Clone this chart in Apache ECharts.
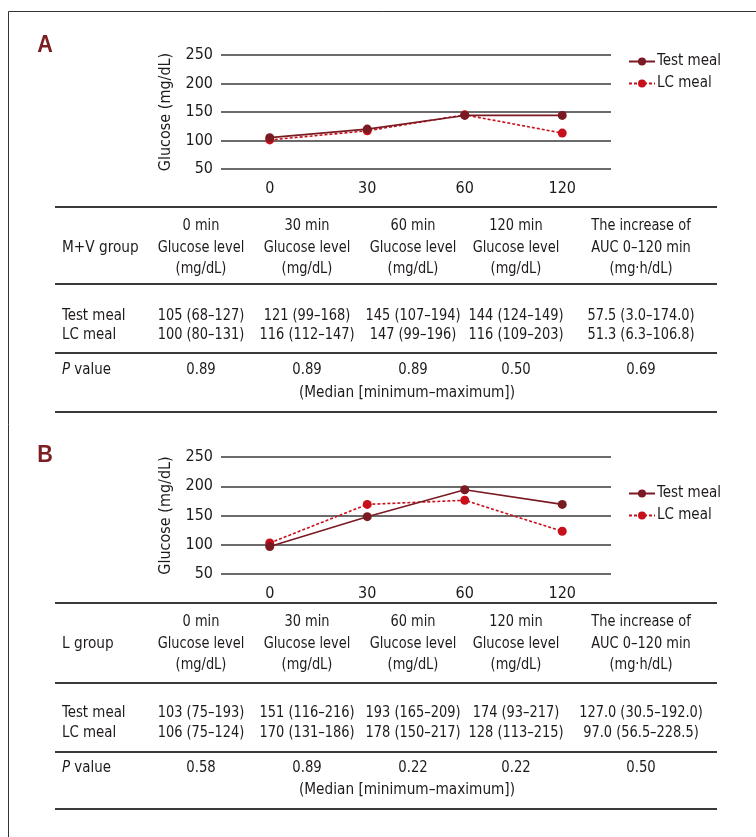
<!DOCTYPE html>
<html>
<head>
<meta charset="utf-8">
<script src="https://cdn.jsdelivr.net/npm/echarts@6/dist/echarts.min.js"></script>
<style>
html,body{margin:0;padding:0;background:#fff;}
#chart{width:756px;height:837px;}
</style>
</head>
<body>
<div id="chart"></div>
<script>
// ---------- data ----------
const timeCats = ['0', '30', '60', '120'];
const seriesNames = ['Test meal', 'LC meal'];
const testMealA = [105, 120, 144, 144];
const lcMealA = [101, 117, 145, 113];
const testMealB = [97, 148, 194, 169];
const lcMealB = [103, 169, 176, 123];
const yMin = 50, yMax = 250, yStep = 50;

const headerCols = [
  ['0 min', 'Glucose level', '(mg/dL)'],
  ['30 min', 'Glucose level', '(mg/dL)'],
  ['60 min', 'Glucose level', '(mg/dL)'],
  ['120 min', 'Glucose level', '(mg/dL)'],
  ['The increase of', 'AUC 0–120 min', '(mg·h/dL)']
];
const groupA = 'M+V group';
const testRowA = ['105 (68–127)', '121 (99–168)', '145 (107–194)', '144 (124–149)', '57.5 (3.0–174.0)'];
const lcRowA = ['100 (80–131)', '116 (112–147)', '147 (99–196)', '116 (109–203)', '51.3 (6.3–106.8)'];
const pRowA = ['0.89', '0.89', '0.89', '0.50', '0.69'];
const groupB = 'L group';
const testRowB = ['103 (75–193)', '151 (116–216)', '193 (165–209)', '174 (93–217)', '127.0 (30.5–192.0)'];
const lcRowB = ['106 (75–124)', '170 (131–186)', '178 (150–217)', '128 (113–215)', '97.0 (56.5–228.5)'];
const pRowB = ['0.58', '0.89', '0.22', '0.22', '0.50'];
const footNote = '(Median [minimum–maximum])';
const rowLabels = ['Test meal', 'LC meal', '{i|P} value'];

// ---------- style ----------
const FONT = '"Liberation Sans Narrow", "DejaVu Sans Condensed", "Roboto Condensed", "Liberation Sans", sans-serif';
const TXT = '#1e1a1b';
const C_TEST = '#7a1a22';
const C_LC = '#c8101c';
const FS = 16;
const TFS = 16;       // table font size

const chart = echarts.init(document.getElementById('chart'));

function makeSeries(name, data, idx, color, dashed) {
  return {
    name: name, type: 'line', data: data,
    xAxisIndex: idx, yAxisIndex: idx,
    symbol: 'circle', symbolSize: 9,
    itemStyle: {color: color},
    lineStyle: {color: color, width: 1.6, type: dashed ? [3, 2] : 'solid'},
    z: dashed ? 3 : 4,
    animation: false
  };
}

function xAx(idx) {
  return {
    type: 'category', gridIndex: idx, data: timeCats, boundaryGap: true,
    axisLine: {show: false}, axisTick: {show: false},
    axisLabel: {color: TXT, fontSize: FS, fontFamily: FONT, margin: 12}
  };
}
function yAx(idx) {
  return {
    type: 'value', gridIndex: idx, min: yMin, max: yMax, interval: yStep,
    name: 'Glucose (mg/dL)', nameLocation: 'middle', nameGap: 47, nameRotate: 90,
    nameTextStyle: {color: TXT, fontSize: FS, fontFamily: FONT},
    axisLine: {show: false}, axisTick: {show: false},
    axisLabel: {color: TXT, fontSize: FS, fontFamily: FONT, margin: 8},
    splitLine: {show: true, lineStyle: {color: '#3a3a3a', width: 1.5}}
  };
}

const colX = [201, 307, 413, 516, 641];
const tableLeft = 55, tableRight = 717, labelX = 62;

function tableGraphics(groupName, testRow, lcRow, pRow, ys) {
  const g = [];
  const lineStyle = {stroke: '#3a3a3a', lineWidth: 2};
  ys.lines.forEach(function (y) {
    g.push({type: 'line', shape: {x1: tableLeft, y1: y, x2: tableRight, y2: y}, style: lineStyle});
  });
  function txt(x, y, t, align, sx) {
    g.push({type: 'text', x: x, y: y, scaleX: sx, scaleY: 1, style: {
      text: t, fill: TXT, fontSize: TFS, fontFamily: FONT,
      align: align || 'center', verticalAlign: 'middle',
      rich: {i: {fontStyle: 'italic', fontSize: TFS, fontFamily: FONT, fill: TXT}}
    }});
  }
  txt(labelX, ys.header[1], groupName, 'left', 0.95);
  headerCols.forEach(function (col, i) {
    col.forEach(function (t, j) { txt(colX[i], ys.header[j], t, 'center', 0.9); });
  });
  txt(labelX, ys.test, rowLabels[0], 'left', 0.93);
  txt(labelX, ys.lc, rowLabels[1], 'left', 0.93);
  txt(labelX, ys.p, rowLabels[2], 'left', 0.93);
  testRow.forEach(function (t, i) { txt(colX[i], ys.test, t, 'center', 0.9); });
  lcRow.forEach(function (t, i) { txt(colX[i], ys.lc, t, 'center', 0.9); });
  pRow.forEach(function (t, i) { txt(colX[i], ys.p, t, 'center', 0.92); });
  txt(407, ys.note, footNote, 'center', 0.95);
  return g;
}

const graphics = [
  {type: 'rect', shape: {x: 8.5, y: 11.5, width: 900, height: 900},
   style: {fill: 'none', stroke: '#333', lineWidth: 1}, silent: true},
  {type: 'text', x: 45, y: 45, scaleX: 0.9, style: {text: 'A', fill: '#7b1e22', fontSize: 24, fontWeight: 'bold',
    fontFamily: '"Liberation Sans", sans-serif', align: 'center', verticalAlign: 'middle'}},
  {type: 'text', x: 45, y: 455, scaleX: 0.9, style: {text: 'B', fill: '#7b1e22', fontSize: 24, fontWeight: 'bold',
    fontFamily: '"Liberation Sans", sans-serif', align: 'center', verticalAlign: 'middle'}}
].concat(
  tableGraphics(groupA, testRowA, lcRowA, pRowA,
    {lines: [207, 284, 353, 412], header: [226, 248, 269], test: 316, lc: 335, p: 370, note: 393}),
  tableGraphics(groupB, testRowB, lcRowB, pRowB,
    {lines: [603, 683, 752, 809], header: [622, 644, 665], test: 713, lc: 733, p: 768, note: 790})
);

function legend(top) {
  return {
    data: seriesNames.slice(),
    orient: 'vertical', left: 623, top: top, itemGap: 7,
    itemWidth: 26, itemHeight: 10,
    textStyle: {color: TXT, fontSize: 15, fontFamily: FONT, padding: [0, 0, 0, -3]},
    selectedMode: false
  };
}

const option = {
  animation: false,
  backgroundColor: '#fff',
  grid: [
    {left: 221, top: 55, width: 390, height: 114},
    {left: 221, top: 457, width: 390, height: 117}
  ],
  xAxis: [xAx(0), xAx(1)],
  yAxis: [yAx(0), yAx(1)],
  legend: [legend(49), legend(481)],
  series: [
    makeSeries(seriesNames[0], testMealA, 0, C_TEST, false),
    makeSeries(seriesNames[1], lcMealA, 0, C_LC, true),
    makeSeries(seriesNames[0], testMealB, 1, C_TEST, false),
    makeSeries(seriesNames[1], lcMealB, 1, C_LC, true)
  ],
  graphic: graphics
};
chart.setOption(option);
</script>
</body>
</html>
